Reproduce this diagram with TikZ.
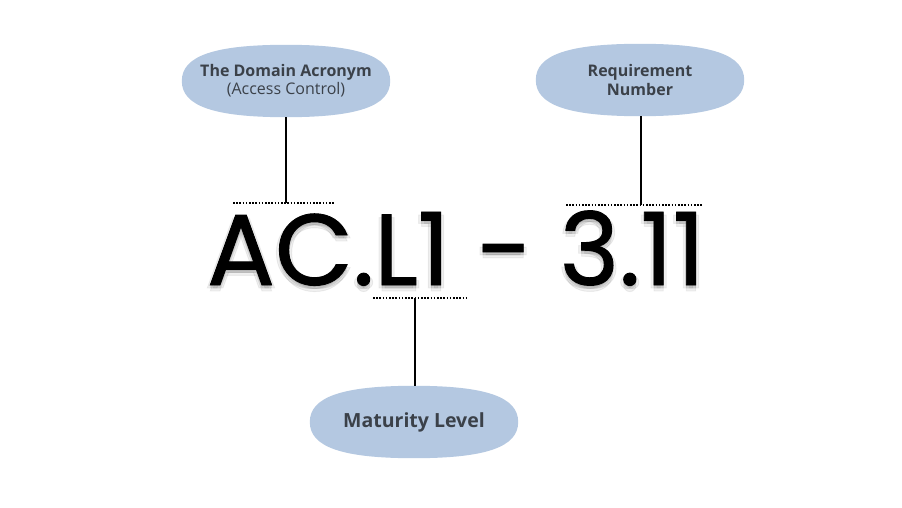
\documentclass[tikz,border=0pt]{standalone}
\usepackage{fontspec}
\setmainfont{Open Sans}
\newfontfamily\bigfont{Poppins}[FakeBold=0.9]
\definecolor{pill}{HTML}{B4C8E1}
\definecolor{labtxt}{HTML}{3B4149}
\pgfdeclarelayer{background}
\pgfsetlayers{background,main}
\newcommand{\pillfill}[1]{%
  \begin{pgfonlayer}{background}
  \fill[pill] (#1.east) .. controls +(0,-25) and +(72,0) .. (#1.north)
     .. controls +(-72,0) and +(0,-25) .. (#1.west)
     .. controls +(0,25) and +(-72,0) .. (#1.south)
     .. controls +(72,0) and +(0,25) .. (#1.east) -- cycle;
  \end{pgfonlayer}}
\tikzset{
  pillnode/.style={rectangle, minimum width=208pt, minimum height=72pt, inner sep=0pt, align=center, text=labtxt, font=\fontsize{16}{19}\selectfont\bfseries},
  conn/.style={line width=2pt, draw=black},
  dots/.style={line width=2pt, draw=black, dash pattern=on 1.6pt off 1.6pt},
  bigtext/.style={font=\bigfont\fontsize{101}{101}\selectfont, inner sep=0pt, anchor=base}
}
\begin{document}
\begin{tikzpicture}[x=1pt,y=-1pt]
\useasboundingbox (0,0) rectangle (902,508);
\begin{pgfonlayer}{background}
\fill[white] (0,0) rectangle (902,508);
\end{pgfonlayer}
% shadow
\foreach \dx/\dy in {-3/3,3/3,0/6,0/1,0/3} {
  \node[bigtext, text=black, opacity=0.06] at (456+\dx,285+\dy) {AC.L1 - 3.11};
}
\node[bigtext] (code) at (456,285) {AC.L1 - 3.11};
% pills
\node[pillnode] (dom) at (286,81) {The Domain Acronym\\[-1pt]{\mdseries (Access Control)}};
\node[pillnode] (req) at (640,80) {Requirement\\Number};
\node[pillnode, font=\fontsize{19.5}{22}\selectfont\bfseries] (mat) at (414,422) {Maturity Level};
\pillfill{dom}\pillfill{req}\pillfill{mat}
% dotted lines
\coordinate (d1a) at (233,203); \coordinate (d1b) at (334,203); \coordinate (d1m) at (286,203);
\coordinate (d2a) at (566,205); \coordinate (d2b) at (702,205); \coordinate (d2m) at (641,205);
\coordinate (d3a) at (373,298); \coordinate (d3b) at (466,298); \coordinate (d3m) at (415,298);
\draw[dots] (d1a) -- (d1b);
\draw[dots] (d2a) -- (d2b);
\draw[dots] (d3a) -- (d3b);
% connectors
\draw[conn] (dom.south) -- (d1m);
\draw[conn] (req.south -| d2m) -- (d2m);
\draw[conn] (d3m) -- (mat.north -| d3m);
\end{tikzpicture}
\end{document}
